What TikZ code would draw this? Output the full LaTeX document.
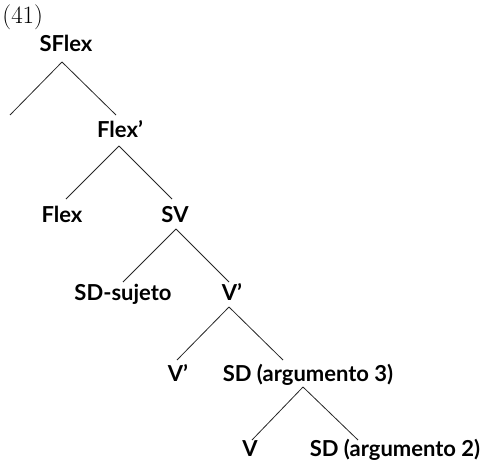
\documentclass[tikz,border=0pt]{standalone}
\usepackage{fontspec}
\setsansfont{Lato}
\begin{document}
\begin{tikzpicture}[
        x=1pt, y=-1pt,
        thick,
        font=\sffamily\bfseries
    ]
    \tikzset{
        mylabel/.style = {anchor=base, inner sep=0pt, font=\sffamily\bfseries\fontsize{22}{22}\selectfont},
        mynum/.style = {anchor=base west, inner sep=0pt, font=\rmfamily\fontsize{25}{25}\selectfont},
        branch/.style = {-, line width=0.8pt, black!85},
    }
    \useasboundingbox (0,0) rectangle (484,468);
    \node[mynum] at (2,24) (num) {(41)};
    \node[mylabel] at (66,52) (sflex) {SFlex};
    \node[mylabel] at (120,137) (flexb) {Flex'};
    \node[mylabel] at (62,222) (flex) {Flex};
    \node[mylabel] at (175,222) (sv) {SV};
    \node[mylabel] at (123,300) (sdsuj) {SD-sujeto};
    \node[mylabel] at (232,300) (vb) {V'};
    \node[mylabel] at (178,381) (vbb) {V'};
    \node[mylabel] at (308,381) (sdtres) {SD (argumento 3)};
    \node[mylabel] at (250,456) (v) {V};
    \node[mylabel] at (395,456) (sddos) {SD (argumento 2)};
    %
    \coordinate (a0) at (62,62);
    \coordinate (a1) at (10,115);
    \coordinate (a2) at (116,115);
    \coordinate (b0) at (119,146);
    \coordinate (b1) at (66,199);
    \coordinate (b2) at (172,199);
    \coordinate (c0) at (176,229);
    \coordinate (c1) at (123,282);
    \coordinate (c2) at (229,282);
    \coordinate (d0) at (229,307);
    \coordinate (d1) at (177,360);
    \coordinate (d2) at (283,360);
    \coordinate (e0) at (303,387);
    \coordinate (e1) at (252,440);
    \coordinate (e2) at (358,440);
    %
    \draw[branch] (a0) edge (a1) (a0) edge (a2);
    \draw[branch] (b0) edge (b1) (b0) edge (b2);
    \draw[branch] (c0) edge (c1) (c0) edge (c2);
    \draw[branch] (d0) edge (d1) (d0) edge (d2);
    \draw[branch] (e0) edge (e1) (e0) edge (e2);
\end{tikzpicture}
\end{document}
